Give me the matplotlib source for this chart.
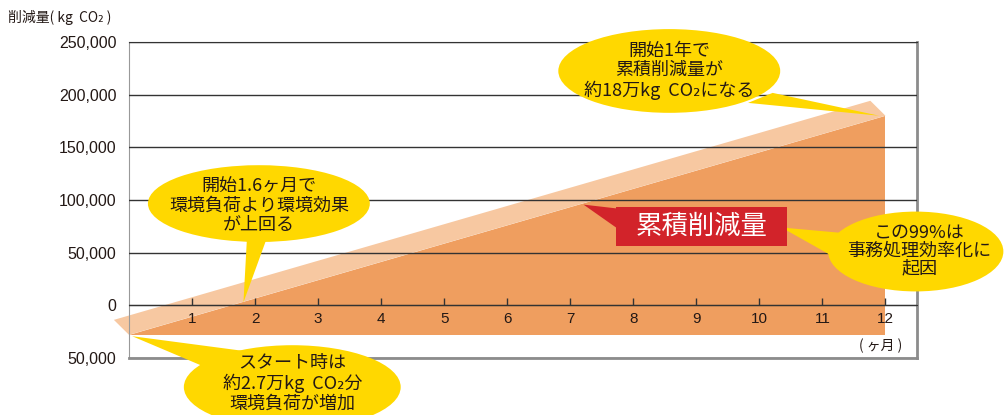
"""Cumulative CO2 reduction chart (first year), with speech-bubble callouts."""

import matplotlib

matplotlib.use("Agg")
import matplotlib.pyplot as plt
from matplotlib.patches import Ellipse, Polygon, Rectangle
from matplotlib.ticker import FuncFormatter

plt.rcParams["font.family"] = ["Noto Sans CJK JP", "DejaVu Sans"]

# data
months = [0, 12]
cumulative = [-28000, 180000]          # kg CO2, start -> end of year one
month_ticks = list(range(1, 13))
y_ticks = [-50000, 0, 50000, 100000, 150000, 200000, 250000]

DARK = "#EF9E5F"
LIGHT = "#F7C8A1"
YELLOW = "#FFD800"
RED = "#D2232A"
INK = "#231815"
CJK = ["Noto Sans CJK JP", "DejaVu Sans"]
NUM = ["Liberation Sans", "DejaVu Sans"]

fig = plt.figure(figsize=(10.05, 4.15), dpi=100)
ax = fig.add_axes([129 / 1005, 57 / 415, 788 / 1005, 316 / 415])
ax.set_xlim(0, 12.5)
ax.set_ylim(y_ticks[0], y_ticks[-1])

# main area + light "3d" band on top of it
x0, x1 = months
y0, y1 = cumulative
ax.add_patch(Polygon([(x0, y0), (x1, y0), (x1, y1)], closed=True,
                     facecolor=DARK, edgecolor="none", zorder=1))
dx, dy = -0.24, 14200
ax.add_patch(Polygon([(x0, y0), (x1, y1), (x1 + dx, y1 + dy), (x0 + dx, y0 + dy)],
                     closed=True, facecolor=LIGHT, edgecolor="none",
                     zorder=1, clip_on=False))

# axes styling
ax.set_yticks(y_ticks)
ax.yaxis.set_major_formatter(FuncFormatter(lambda v, p: f"{abs(int(v)):,}"))
ax.grid(axis="y", color="#333333", lw=1.0, zorder=2)
ax.set_axisbelow(False)
ax.tick_params(axis="y", length=0, pad=9, labelsize=11.5, labelcolor=INK)
for lab in ax.get_yticklabels():
    lab.set_family(NUM)

ax.spines["bottom"].set_position(("data", 0))
ax.spines["bottom"].set_color("#333333")
ax.spines["top"].set_color("#333333")
ax.spines["left"].set_color("#999999")
ax.spines["right"].set_color("#8c8c8c")
ax.spines["right"].set_linewidth(2)
ax.axhline(y_ticks[0], color="#8c8c8c", lw=2, clip_on=False, zorder=3)

ax.set_xticks(month_ticks)
ax.set_xticklabels([str(m) for m in month_ticks], family=NUM)
ax.tick_params(axis="x", direction="in", length=5, width=1, color="#333333",
               pad=5, labelsize=11, labelcolor=INK)

ax.text(11.92, -38800, "( ヶ月 )", ha="center", va="center", fontsize=10,
        color=INK)
fig.text(8 / 1005, 1 - 17 / 415, "削減量( kg  CO₂ )", ha="left", va="center",
         fontsize=10, color=INK, family=CJK)


def bubble(center, w, h, tail, text, text_xy, fs=13, ls=1.1):
    ax.add_patch(Ellipse(center, w, h, facecolor=YELLOW, edgecolor="none",
                         zorder=5, clip_on=False))
    ax.add_patch(Polygon(tail, closed=True, facecolor=YELLOW, edgecolor="none",
                         zorder=5, clip_on=False))
    ax.text(*text_xy, text, ha="center", va="center", fontsize=fs, color=INK,
            linespacing=ls, zorder=6, family=CJK, clip_on=False)


# end of year
bubble((8.57, 222500), 3.52, 79500,
       [(10.21, 201700), (9.82, 192200), (x1 - 0.1, y1)],
       "開始1年で\n累積削減量が\n約18万kg  CO₂になる", (8.57, 222500))

# break-even point
breakeven = -y0 / ((y1 - y0) / (x1 - x0))
bubble((2.06, 96600), 3.52, 72900,
       [(1.87, 62500), (2.19, 64400), (breakeven + 0.2, 2800)],
       "開始1.6ヶ月で\n環境負荷より環境効果\nが上回る", (2.06, 94700))

# start
bubble((2.59, -77600), 3.44, 79500,
       [(x0 + 0.05, y0 - 1300), (2.21, -46400), (1.21, -58700)],
       "スタート時は\n約2.7万kg  CO₂分\n環境負荷が増加", (2.59, -73900))

# 99%
bubble((12.48, 51100), 2.78, 75800,
       [(10.35, 73900), (11.41, 68200), (11.25, 43600)],
       "この99%は\n事務処理効率化に\n起因", (12.54, 52100), ls=1.0)

# red label
ax.add_patch(Rectangle((7.73, 56800), 10.43 - 7.73, 93750 - 56800,
                       facecolor=RED, edgecolor="none", zorder=5))
ax.add_patch(Polygon([(7.21, 95600), (7.75, 91900), (7.75, 72900)], closed=True,
                     facecolor=RED, edgecolor="none", zorder=5))
ax.text(9.08, 74800, "累積削減量", ha="center", va="center", fontsize=19,
        color="white", zorder=6, family=CJK)

fig.savefig("out.png", dpi=100)
